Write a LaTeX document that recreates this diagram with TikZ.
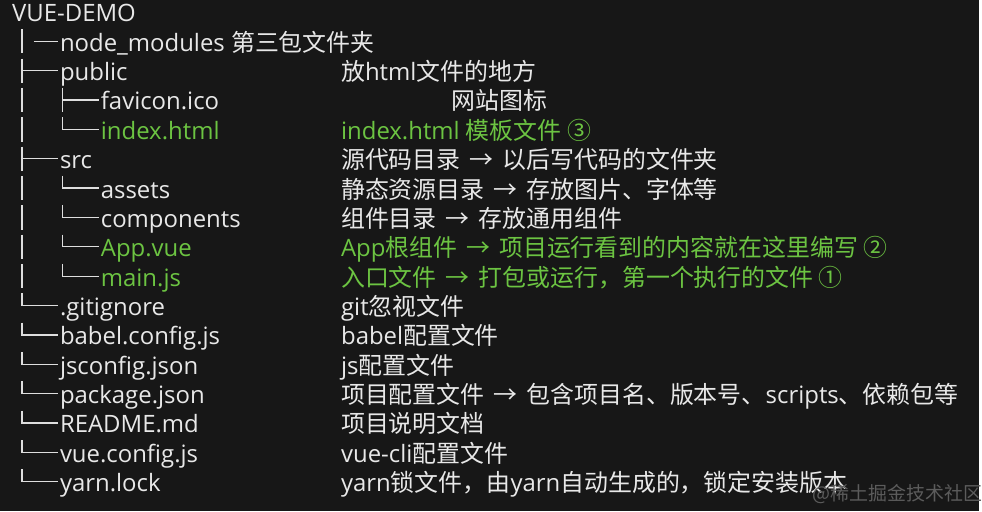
\documentclass[tikz,border=0pt]{standalone}
\usepackage{fontspec}
\setmainfont{Open Sans}
\newfontfamily\cjk{Noto Sans CJK SC}
\newcommand{\zh}[1]{{\cjk #1}}
\newcommand{\arr}{\hspace{9pt}→\hspace{9pt}}
\usepackage{xcolor}
\usepackage{tikz}
\usetikzlibrary{positioning}
\definecolor{bgdark}{RGB}{23,23,23}
\definecolor{txtwhite}{RGB}{232,232,232}
\definecolor{vuegreen}{RGB}{108,196,66}
\definecolor{treegray}{RGB}{222,222,222}
\definecolor{markgray}{RGB}{92,92,92}
\tikzset{file/.style = {anchor=base west, inner sep=0pt, text height=22pt, text depth=2pt,
                        text=txtwhite, font=\fontsize{24}{28}\selectfont},
         hot/.style = {text=vuegreen},
         tree/.style = {draw=treegray, line width=1.3pt}}

\begin{document}
\begin{tikzpicture}[x=1pt,y=1pt]
                    \fill[bgdark] (0,0) rectangle (982,-513);

                    % left column: the tree
                    \node[file] (root) at (12,-22) {VUE-DEMO};
                    \node[file] (nodemod) at (60,-51.45) {node\_modules \zh{第三包文件夹}};
                    \node[file] (public) at (60,-80.9) {public};
                    \node[file] (favicon) at (101,-110.35) {favicon.ico};
                    \node[file,hot] (index) at (101,-139.8) {index.html};
                    \node[file] (src) at (60,-169.25) {src};
                    \node[file] (assets) at (101,-198.7) {assets};
                    \node[file] (comp) at (101,-228.15) {components};
                    \node[file,hot] (app) at (101,-257.6) {App.vue};
                    \node[file,hot] (main) at (101,-287.05) {main.js};
                    \node[file] (gitignore) at (60,-316.5) {.gitignore};
                    \node[file] (babel) at (60,-345.95) {babel.config.js};
                    \node[file] (jsconfig) at (60,-375.4) {jsconfig.json};
                    \node[file] (package) at (60,-404.85) {package.json};
                    \node[file] (readme) at (60,-434.3) {README.md};
                    \node[file] (vueconfig) at (60,-463.75) {vue.config.js};
                    \node[file] (yarn) at (60,-493.2) {yarn.lock};

                    % right column: notes
                    \node[file] (dpublic) at (342,-80.9) {\zh{放}html\zh{文件的地方}};
                    \node[file] (dfavicon) at (453,-110.35) {\zh{网站图标}};
                    \node[file,hot] (dindex) at (342,-139.8) {index.html \zh{模板文件 ③}};
                    \node[file] (dsrc) at (342,-169.25) {\zh{源代码目录\arr 以后写代码的文件夹}};
                    \node[file] (dassets) at (342,-198.7) {\zh{静态资源目录\arr 存放图片、字体等}};
                    \node[file] (dcomp) at (342,-228.15) {\zh{组件目录\arr 存放通用组件}};
                    \node[file,hot] (dapp) at (342,-257.6) {App\zh{根组件\arr 项目运行看到的内容就在这里编写 ②}};
                    \node[file,hot] (dmain) at (342,-287.05) {\zh{入口文件\arr 打包或运行，第一个执行的文件 ①}};
                    \node[file] (dgit) at (342,-316.5) {git\zh{忽视文件}};
                    \node[file] (dbabel) at (342,-345.95) {babel\zh{配置文件}};
                    \node[file] (djs) at (342,-375.4) {js\zh{配置文件}};
                    \node[file] (dpackage) at (342,-404.85) {\zh{项目配置文件\arr 包含项目名、版本号、}scripts\zh{、依赖包等}};
                    \node[file] (dreadme) at (342,-434.3) {\zh{项目说明文档}};
                    \node[file] (dvue) at (342,-463.75) {vue-cli\zh{配置文件}};
                    \node[file] (dyarn) at (342,-493.2) {yarn\zh{锁文件，由}yarn\zh{自动生成的，锁定安装版本}};

                    \node[anchor=base west, inner sep=0pt, text=markgray, font=\cjk\fontsize{19}{22}\selectfont]
                         (wmark) at (815,-502) {@稀土掘金技术社区};

                    % branches
                    \path[tree] ([xshift=-38pt]nodemod.north west) -- ([xshift=-38pt]nodemod.south west);
                    \path[tree] ([xshift=-26pt]nodemod.west) -- ([xshift=-2pt]nodemod.west);
                    \path[tree] ([xshift=-38pt]public.north west) -- ([xshift=-38pt]public.south west);
                    \path[tree] ([xshift=-38pt]public.west) -- ([xshift=-2pt]public.west);
                    \path[tree] ([xshift=-79pt]favicon.north west) -- ([xshift=-79pt]favicon.south west);
                    \path[tree] ([xshift=-38pt]favicon.north west) -- ([xshift=-38pt]favicon.south west);
                    \path[tree] ([xshift=-38pt]favicon.west) -- ([xshift=-2pt]favicon.west);
                    \path[tree] ([xshift=-79pt]index.north west) -- ([xshift=-79pt]index.south west);
                    \path[tree] ([xshift=-38pt]index.north west) |- ([xshift=-2pt]index.west);
                    \path[tree] ([xshift=-38pt]src.north west) -- ([xshift=-38pt]src.south west);
                    \path[tree] ([xshift=-38pt]src.west) -- ([xshift=-2pt]src.west);
                    \path[tree] ([xshift=-79pt]assets.north west) -- ([xshift=-79pt]assets.south west);
                    \path[tree] ([xshift=-38pt]assets.north west) |- ([xshift=-2pt]assets.west);
                    \path[tree] ([xshift=-79pt]comp.north west) -- ([xshift=-79pt]comp.south west);
                    \path[tree] ([xshift=-38pt]comp.north west) |- ([xshift=-2pt]comp.west);
                    \path[tree] ([xshift=-79pt]app.north west) -- ([xshift=-79pt]app.south west);
                    \path[tree] ([xshift=-38pt]app.north west) |- ([xshift=-2pt]app.west);
                    \path[tree] ([xshift=-79pt]main.north west) -- ([xshift=-79pt]main.south west);
                    \path[tree] ([xshift=-38pt]main.north west) |- ([xshift=-2pt]main.west);
                    \path[tree] ([xshift=-38pt]gitignore.north west) |- ([xshift=-2pt]gitignore.west);
                    \path[tree] ([xshift=-38pt]babel.north west) |- ([xshift=-2pt]babel.west);
                    \path[tree] ([xshift=-38pt]jsconfig.north west) |- ([xshift=-2pt]jsconfig.west);
                    \path[tree] ([xshift=-38pt]package.north west) |- ([xshift=-2pt]package.west);
                    \path[tree] ([xshift=-38pt]readme.north west) |- ([xshift=-2pt]readme.west);
                    \path[tree] ([xshift=-38pt]vueconfig.north west) |- ([xshift=-2pt]vueconfig.west);
                    \path[tree] ([xshift=-38pt]yarn.north west) |- ([xshift=-2pt]yarn.west);
                \end{tikzpicture}
\end{document}
